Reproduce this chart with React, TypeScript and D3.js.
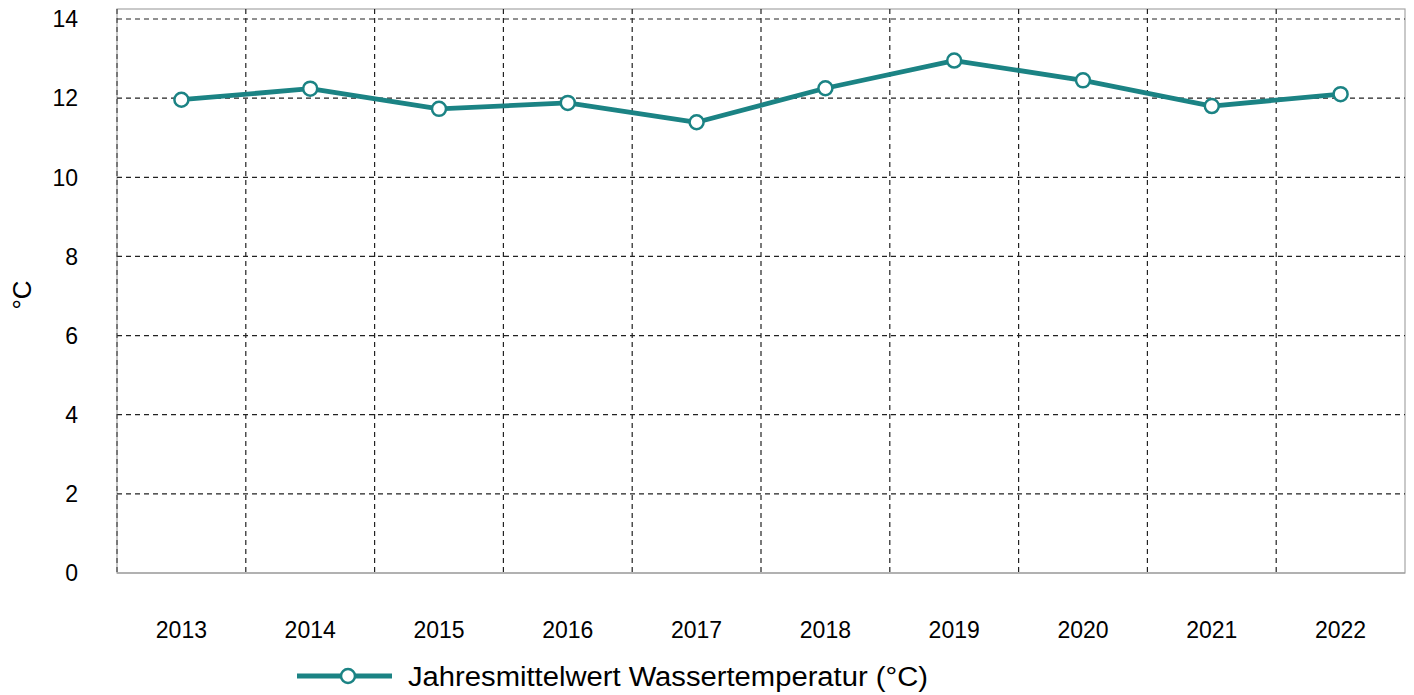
import React from 'react';
import * as d3 from 'd3';

const years: string[] = ['2013', '2014', '2015', '2016', '2017', '2018', '2019', '2020', '2021', '2022'];
const temps: number[] = [11.96, 12.24, 11.73, 11.88, 11.39, 12.25, 12.95, 12.45, 11.8, 12.1];
const yTicks: number[] = [0, 2, 4, 6, 8, 10, 12, 14];
const seriesName = 'Jahresmittelwert Wassertemperatur (°C)';

const teal = '#1b8384';
const font = 'Arial, "Liberation Sans", sans-serif';

const App: React.FC = () => {
  const width = 1414;
  const height = 695;
  const left = 117;
  const right = 1405;
  const top = 19;
  const bottom = 573;

  const x = d3.scaleBand<string>().domain(years).range([left, right]);
  const y = d3.scaleLinear().domain([0, 14]).range([bottom, top]);

  const line = d3
    .line<number>()
    .x((_, i) => (x(years[i]) as number) + x.bandwidth() / 2)
    .y((d) => y(d));

  const gridEdges = years.map((yr) => x(yr) as number).slice(1);

  return (
    <svg
      width={width}
      height={height}
      style={{ position: 'absolute', left: 0, top: 0, background: '#fff' }}
      fontFamily={font}
    >
      {/* plot frame */}
      <rect x={left} y={9} width={right - left} height={bottom - 9} fill="none" stroke="#a6a6a6" strokeWidth={1.2} />

      {/* horizontal grid */}
      {yTicks.filter((t) => t > 0).map((t) => (
        <line key={'h' + t} x1={left} x2={right} y1={y(t)} y2={y(t)} stroke="#222" strokeWidth={1.2} strokeDasharray="5,4" />
      ))}
      {/* vertical grid */}
      {gridEdges.map((gx, i) => (
        <line key={'v' + i} x1={gx} x2={gx} y1={9} y2={bottom} stroke="#222" strokeWidth={1.2} strokeDasharray="5,4" />
      ))}
      <line x1={left} x2={left} y1={9} y2={bottom} stroke="#444" strokeWidth={1.2} strokeDasharray="5,4" />
      <line x1={left} x2={right} y1={bottom} y2={bottom} stroke="#999" strokeWidth={1.2} />

      {/* y ticks */}
      {yTicks.map((t) => (
        <text key={'yt' + t} x={78} y={y(t)} dy="0.36em" textAnchor="end" fontSize={23} fill="#000">
          {t}
        </text>
      ))}
      <text transform="translate(31,295) rotate(-90)" textAnchor="middle" fontSize={26} fill="#000">
        °C
      </text>

      {/* x labels */}
      {years.map((yr) => (
        <text key={yr} x={(x(yr) as number) + x.bandwidth() / 2} y={638} textAnchor="middle" fontSize={23} fill="#000">
          {yr}
        </text>
      ))}

      {/* series */}
      <path d={line(temps) ?? ''} fill="none" stroke={teal} strokeWidth={4.8} strokeLinejoin="round" />
      {temps.map((v, i) => (
        <circle
          key={'c' + i}
          cx={(x(years[i]) as number) + x.bandwidth() / 2}
          cy={y(v)}
          r={7}
          fill="#fff"
          stroke={teal}
          strokeWidth={2.5}
        />
      ))}

      {/* legend */}
      <line x1={297} x2={392} y1={676} y2={676} stroke={teal} strokeWidth={4.8} />
      <circle cx={348} cy={676} r={7} fill="#fff" stroke={teal} strokeWidth={2.5} />
      <text x={408} y={676} dy="0.36em" fontSize={27} fill="#000" textLength={520} lengthAdjust="spacingAndGlyphs">
        {seriesName}
      </text>
    </svg>
  );
};

export default App;
